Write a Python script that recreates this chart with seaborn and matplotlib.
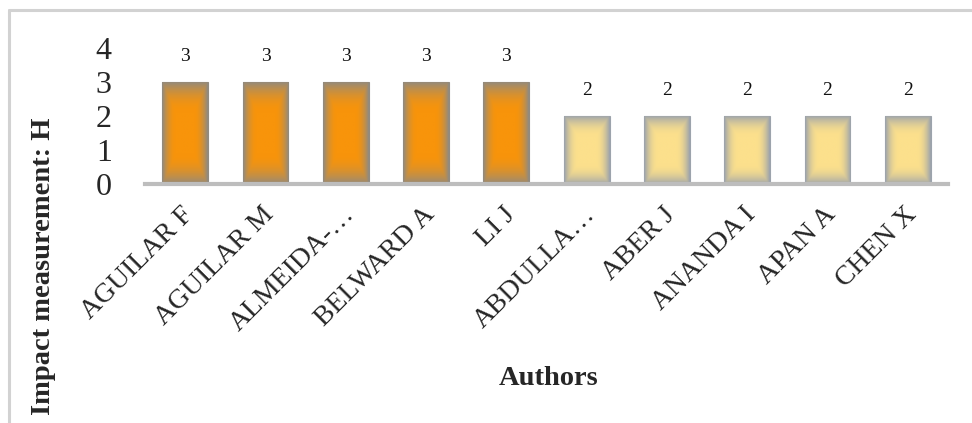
import numpy as np
import pandas as pd
import matplotlib
matplotlib.use("Agg")
import matplotlib.pyplot as plt
from matplotlib.lines import Line2D
from matplotlib.colors import to_rgb
from matplotlib.transforms import ScaledTranslation
import seaborn as sns

# Authors and their H-index impact measurement
authors = ["AGUILAR F", "AGUILAR M", "ALMEIDA-…", "BELWARD A", "LI J",
           "ABDULLA…", "ABER J", "ANANDA I", "APAN A", "CHEN X"]
h_values = [3, 3, 3, 3, 3, 2, 2, 2, 2, 2]
y_ticks = [0, 1, 2, 3, 4]

# fill centre / rim colours for the two groups of bars
centre_colors = {3: "#F8940A", 2: "#FCE08C"}
rim_colors = {3: "#908A80", 2: "#9CA3AC"}

sns.set_theme(style="white")
plt.rcParams["font.family"] = ["Liberation Serif", "DejaVu Serif"]

df = pd.DataFrame({"author": authors, "h": h_values})
palette = {a: centre_colors[v] for a, v in zip(authors, h_values)}

fig = plt.figure(figsize=(9.72, 4.23), dpi=100)
ax = fig.add_axes([145 / 972, 1 - 184 / 423, 803 / 972, 136 / 423])

sns.barplot(data=df, x="author", y="h", hue="author", palette=palette,
            legend=False, width=0.57, saturation=1, ax=ax, zorder=2)

# soft rim-to-centre shading inside each bar
for patch, v in zip(ax.patches, h_values):
    x0, y0 = patch.get_x(), patch.get_y()
    w, hgt = patch.get_width(), patch.get_height()
    nx, ny = 60, 120
    u = np.abs(np.linspace(-1, 1, nx))[None, :]
    vv = np.abs(np.linspace(-1, 1, ny))[:, None]
    t = np.maximum(u, vv * 0.98)
    k = np.clip((t - 0.4) / 0.6, 0, 1) ** 2.0
    c0 = np.array(to_rgb(centre_colors[v]))
    c1 = np.array(to_rgb(rim_colors[v]))
    img = c0[None, None, :] * (1 - k[..., None]) + c1[None, None, :] * k[..., None]
    im = ax.imshow(img, extent=(x0, x0 + w, y0, y0 + hgt), aspect="auto",
                   origin="lower", zorder=3, interpolation="bilinear")
    im.set_clip_path(patch)
    patch.set_edgecolor(rim_colors[v])
    patch.set_linewidth(0.8)

ax.set_xlim(-0.5, len(authors) - 0.5)
ax.set_ylim(0, 4)
ax.set_yticks(y_ticks)
ax.set_yticklabels([str(t) for t in y_ticks], fontsize=23)
ax.tick_params(axis="y", length=0, pad=24)
ax.tick_params(axis="x", length=0, pad=13)
ax.set_xticks(range(len(authors)))
ax.set_xticklabels(authors, rotation=45, ha="right", rotation_mode="anchor",
                   fontsize=20)
shift = ScaledTranslation(-4 / 100, 0, fig.dpi_scale_trans)
for lbl in ax.get_xticklabels():
    lbl.set_transform(lbl.get_transform() + shift)
ax.set_xlabel("")
ax.set_ylabel("")

for side in ["top", "right", "left"]:
    ax.spines[side].set_visible(False)
ax.spines["bottom"].set_color("#BDBDBD")
ax.spines["bottom"].set_linewidth(3)
ax.spines["bottom"].set_zorder(4)

for container in ax.containers:
    ax.bar_label(container, labels=[f"{int(b.get_height())}" for b in container],
                 padding=12, fontsize=14, color="#111111")

fig.text(44 / 972, 1 - 266 / 423, "Impact measurement: H", rotation=90,
         ha="center", va="center", fontsize=20.5, fontweight="bold")
fig.text(549 / 972, 1 - 378 / 423, "Authors", ha="center", va="center",
         fontsize=20.5, fontweight="bold")

# light frame along the top and left of the figure
fig.add_artist(Line2D([9 / 972, 9 / 972], [0, 1 - 10 / 423],
                      transform=fig.transFigure, color="#D2D2D2", lw=2.2))
fig.add_artist(Line2D([9 / 972, 1], [1 - 10 / 423, 1 - 10 / 423],
                      transform=fig.transFigure, color="#D2D2D2", lw=2.2))

fig.savefig("out.png", dpi=100)
